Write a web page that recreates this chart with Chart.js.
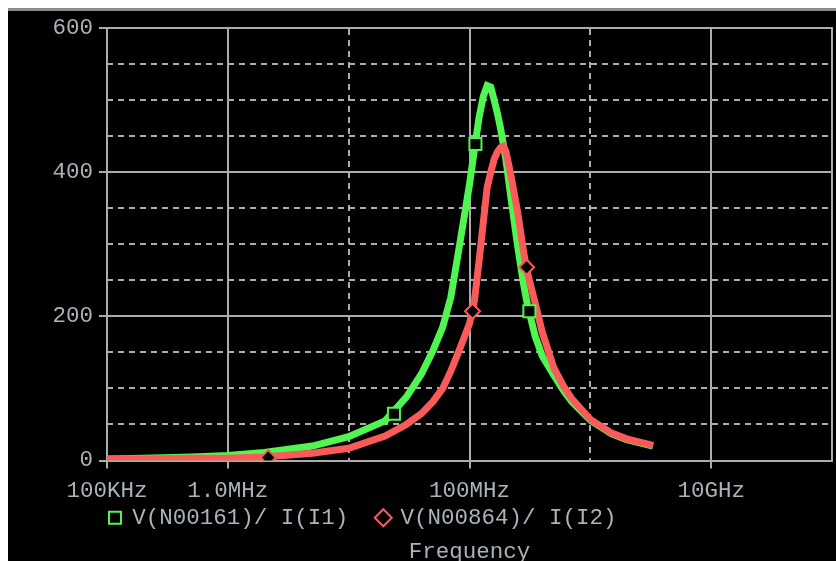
<!DOCTYPE html>
<html>
<head>
<meta charset="utf-8">
<title>AC sweep</title>
<script src="https://cdn.jsdelivr.net/npm/chart.js@4.4.1/dist/chart.umd.min.js"></script>
<style>
  html, body { margin: 0; padding: 0; background: #fff; overflow: hidden; }
  #wrap { position: absolute; left: 8px; top: 8px; width: 828px; height: 555px; background: #000; border-top: 3px solid #8c8c8c; overflow: hidden; }
  canvas { display: block; }
</style>
</head>
<body>
<div id="wrap"><canvas id="acChart" width="828" height="555"></canvas></div>
<script>
// frequency points (Hz) shared by both traces
const freqs = [1e5, 2e5, 5e5, 1e6, 2e6, 5e6, 1e7, 2e7, 3e7, 4e7, 5e7, 6e7, 7e7, 8e7, 9e7,
  1e8, 1.1e8, 1.2e8, 1.3e8, 1.4e8, 1.5e8, 1.6e8, 1.7e8, 1.8e8, 1.9e8, 2e8, 2.2e8, 2.5e8,
  2.8e8, 3e8, 3.5e8, 4e8, 5e8, 6e8, 7e8, 8e8, 1e9, 1.5e9, 2e9, 3.3e9];

// V(N00161)/ I(I1)
const impedance1 = [2, 3, 5, 7, 11, 20, 33, 55, 88, 120, 153, 185, 226, 284, 336,
  383, 432, 476, 505, 520, 518, 500, 482, 462, 440, 418, 365, 298,
  245, 218, 172, 145, 118, 97, 82, 72, 56, 37, 29, 20];

// V(N00864)/ I(I2)
const impedance2 = [2, 2, 3, 3, 5, 10, 17, 34, 50, 65, 82, 100, 124, 148, 170,
  190, 222, 277, 330, 379, 400, 418, 428, 434, 436, 429, 396, 345,
  290, 262, 218, 178, 128, 103, 86, 75, 57, 38, 30, 21];

// trace markers
const markerFreqs1 = [2.37e7, 1.12e8, 3.13e8];
const markerVals1 = [65, 439, 207];
const markerFreqs2 = [2.16e6, 1.06e8, 2.97e8];
const markerVals2 = [4, 207, 268];

const traceNames = ['V(N00161)/ I(I1)', 'V(N00864)/ I(I2)'];

const xTicks = [1e5, 1e6, 1e8, 1e10];
const xTickLabels = ['100KHz', '1.0MHz', '100MHz', '10GHz'];
const xDashTicks = [1e7, 1e9];
const yTicks = [0, 200, 400, 600];
const yDashTicks = [50, 100, 150, 250, 300, 350, 450, 500, 550];

const GREEN = '#50f550';
const RED = '#fa5a5a';
const GRID = '#acacac';

Chart.defaults.font.family = '"Courier New", "Liberation Mono", monospace';
Chart.defaults.font.size = 22.5;
Chart.defaults.color = '#aab2ba';

const toPoints = (xs, ys) => xs.map((x, i) => ({ x: x, y: ys[i] }));
const setTicks = list => scale => { scale.ticks = list.map(v => ({ value: v })); };
// fixed axis sizes, and no extra room for overhanging tick labels
const fixSize = (w, h) => scale => {
  if (w !== null) scale.width = w;
  if (h !== null) scale.height = h;
  scale.paddingLeft = scale.paddingRight = scale.paddingTop = scale.paddingBottom = 0;
};

const ctx = document.getElementById('acChart').getContext('2d');

new Chart(ctx, {
  type: 'line',
  data: {
    datasets: [
      {
        label: traceNames[0],
        data: toPoints(freqs, impedance1),
        borderColor: GREEN,
        borderWidth: 7,
        pointRadius: 0,
        pointStyle: 'rect',
        pointBackgroundColor: '#000',
        pointBorderColor: GREEN,
        pointBorderWidth: 2,
        xAxisID: 'x', yAxisID: 'y',
        order: 3
      },
      {
        label: traceNames[1],
        data: toPoints(freqs, impedance2),
        borderColor: RED,
        borderWidth: 7,
        pointRadius: 0,
        pointStyle: 'rectRot',
        pointBackgroundColor: '#000',
        pointBorderColor: RED,
        pointBorderWidth: 2,
        xAxisID: 'x', yAxisID: 'y',
        order: 2
      },
      {
        label: 'markers1',
        data: toPoints(markerFreqs1, markerVals1),
        showLine: false,
        pointStyle: 'rect',
        pointRadius: 8.5,
        pointBackgroundColor: '#000',
        pointBorderColor: GREEN,
        pointBorderWidth: 2,
        xAxisID: 'x', yAxisID: 'y',
        order: 1
      },
      {
        label: 'markers2',
        data: toPoints(markerFreqs2, markerVals2),
        showLine: false,
        pointStyle: 'rectRot',
        pointRadius: 7.5,
        pointBackgroundColor: '#000',
        pointBorderColor: RED,
        pointBorderWidth: 2,
        xAxisID: 'x', yAxisID: 'y',
        order: 0
      }
    ]
  },
  options: {
    responsive: false,
    animation: false,
    layout: { autoPadding: false, padding: { left: 0, right: 4, top: 17, bottom: 0 } },
    scales: {
      x: {
        type: 'logarithmic',
        position: 'bottom',
        min: 1e5,
        max: 1e11,
        afterBuildTicks: setTicks(xTicks),
        afterFit: fixSize(null, 44),
        ticks: {
          autoSkip: false,
          maxRotation: 0,
          padding: 9,
          callback: (value, index) => xTickLabels[index]
        },
        grid: { color: GRID, lineWidth: 2, tickLength: 8, tickColor: GRID },
        border: { display: true, color: GRID, width: 2 }
      },
      xDash: {
        type: 'logarithmic',
        position: 'top',
        min: 1e5,
        max: 1e11,
        afterBuildTicks: setTicks(xDashTicks),
        afterFit: fixSize(null, 0),
        ticks: { display: false },
        grid: { color: GRID, lineWidth: 2, drawTicks: false },
        border: { display: true, color: GRID, width: 2, dash: [6, 5] }
      },
      y: {
        type: 'linear',
        position: 'left',
        min: 0,
        max: 600,
        afterBuildTicks: setTicks(yTicks),
        afterFit: fixSize(99, null),
        ticks: { padding: 6 },
        grid: { color: GRID, lineWidth: 2, tickLength: 8, tickColor: GRID },
        border: { display: true, color: GRID, width: 2 }
      },
      yDash: {
        type: 'linear',
        position: 'right',
        min: 0,
        max: 600,
        afterBuildTicks: setTicks(yDashTicks),
        afterFit: fixSize(0, null),
        ticks: { display: false },
        grid: { color: GRID, lineWidth: 2, drawTicks: false },
        border: { display: true, color: GRID, width: 2, dash: [6, 5] }
      }
    },
    plugins: {
      legend: {
        position: 'bottom',
        align: 'start',
        fullSize: false,
        labels: {
          usePointStyle: true,
          boxWidth: 12,
          boxHeight: 12,
          padding: 2,
          // only the two traces, in trace order; two trailing spaces give the gap between entries
          generateLabels: chart => Chart.defaults.plugins.legend.labels.generateLabels(chart)
            .filter(item => item.datasetIndex < 2)
            .sort((a, b) => a.datasetIndex - b.datasetIndex)
            .map((item, i) => (i === 0 ? Object.assign({}, item, { text: item.text + '  ' }) : item))
        }
      },
      title: {
        display: true,
        text: 'Frequency',
        position: 'bottom',
        fullSize: false,
        padding: 0,
        font: { weight: 'normal' }
      },
      tooltip: { enabled: false }
    }
  }
});
</script>
</body>
</html>
